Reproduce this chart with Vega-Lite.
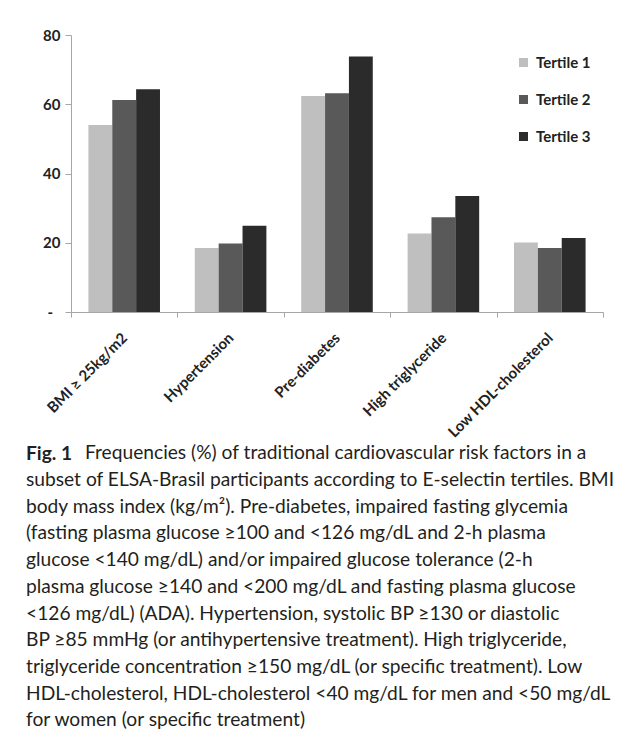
{
  "$schema": "https://vega.github.io/schema/vega-lite/v6.json",
  "width": 532,
  "height": 277,
  "autosize": {"type": "none"},
  "padding": {"left": 71, "top": 35, "right": 27, "bottom": 422},
  "background": "white",
  "data": {
    "values": [
      {"factor": "BMI ≥ 25kg/m2", "tertile": "Tertile 1", "pct": 54.0},
      {"factor": "BMI ≥ 25kg/m2", "tertile": "Tertile 2", "pct": 61.2},
      {"factor": "BMI ≥ 25kg/m2", "tertile": "Tertile 3", "pct": 64.3},
      {"factor": "Hypertension", "tertile": "Tertile 1", "pct": 18.5},
      {"factor": "Hypertension", "tertile": "Tertile 2", "pct": 19.8},
      {"factor": "Hypertension", "tertile": "Tertile 3", "pct": 24.9},
      {"factor": "Pre-diabetes", "tertile": "Tertile 1", "pct": 62.4},
      {"factor": "Pre-diabetes", "tertile": "Tertile 2", "pct": 63.2},
      {"factor": "Pre-diabetes", "tertile": "Tertile 3", "pct": 73.8},
      {"factor": "High triglyceride", "tertile": "Tertile 1", "pct": 22.7},
      {"factor": "High triglyceride", "tertile": "Tertile 2", "pct": 27.4},
      {"factor": "High triglyceride", "tertile": "Tertile 3", "pct": 33.5},
      {"factor": "Low HDL-cholesterol", "tertile": "Tertile 1", "pct": 20.1},
      {"factor": "Low HDL-cholesterol", "tertile": "Tertile 2", "pct": 18.5},
      {"factor": "Low HDL-cholesterol", "tertile": "Tertile 3", "pct": 21.4}
    ]
  },
  "title": {
    "text": "Fig. 1",
    "subtitle": [
      "\u200b\u00a0\u00a0\u00a0\u00a0\u00a0\u00a0\u00a0\u00a0\u00a0\u00a0\u00a0\u00a0Frequencies (%) of traditional cardiovascular risk factors in a",
      "subset of ELSA-Brasil participants according to E-selectin tertiles. BMI",
      "body mass index (kg/m²). Pre-diabetes, impaired fasting glycemia",
      "(fasting plasma glucose ≥100 and <126 mg/dL and 2-h plasma",
      "glucose <140 mg/dL) and/or impaired glucose tolerance (2-h",
      "plasma glucose ≥140 and <200 mg/dL and fasting plasma glucose",
      "<126 mg/dL) (ADA). Hypertension, systolic BP ≥130 or diastolic",
      "BP ≥85 mmHg (or antihypertensive treatment). High triglyceride,",
      "triglyceride concentration ≥150 mg/dL (or specific treatment). Low",
      "HDL-cholesterol, HDL-cholesterol <40 mg/dL for men and <50 mg/dL",
      "for women (or specific treatment)"
    ],
    "orient": "bottom",
    "anchor": "start",
    "frame": "group",
    "dx": -45,
    "offset": 5,
    "font": "Lato",
    "fontSize": 19.2,
    "fontWeight": "bold",
    "color": "#231f20",
    "lineHeight": 26.7,
    "subtitleFont": "Lato",
    "subtitleFontSize": 19.2,
    "subtitleFontWeight": "normal",
    "subtitleColor": "#231f20",
    "subtitleLineHeight": 26.7,
    "subtitlePadding": -20
  },
  "mark": {"type": "bar"},
  "encoding": {
    "x": {
      "field": "factor",
      "type": "nominal",
      "sort": null,
      "scale": {"paddingInner": 0, "paddingOuter": 0},
      "axis": {
        "title": null,
        "labelAngle": -45,
        "labelFont": "Lato",
        "labelFontSize": 15,
        "labelFontWeight": "bold",
        "labelColor": "#222222",
        "labelPadding": 13,
        "labelOffset": -5,
        "domainColor": "#a6a6a6",
        "tickColor": "#a6a6a6",
        "tickSize": 5,
        "tickBand": "extent"
      }
    },
    "xOffset": {
      "field": "tertile",
      "type": "nominal",
      "scale": {"paddingInner": 0, "paddingOuter": 0.73}
    },
    "y": {
      "field": "pct",
      "type": "quantitative",
      "scale": {"domain": [0, 80], "nice": false},
      "axis": {
        "title": null,
        "values": [0, 20, 40, 60, 80],
        "grid": false,
        "labelExpr": "datum.value === 0 ? '-\u00a0\u00a0\u200b' : datum.label",
        "labelFont": "Lato",
        "labelFontSize": 15,
        "labelFontWeight": "bold",
        "labelColor": "#222222",
        "labelPadding": 5,
        "tickSize": 6,
        "tickColor": "#a6a6a6",
        "domainColor": "#a6a6a6"
      }
    },
    "color": {
      "field": "tertile",
      "type": "nominal",
      "scale": {"domain": ["Tertile 1", "Tertile 2", "Tertile 3"], "range": ["#bfbfbf", "#595959", "#2b2b2b"]},
      "legend": {
        "title": null,
        "orient": "none",
        "legendX": 445,
        "legendY": 20,
        "padding": 0,
        "symbolType": "square",
        "symbolSize": 81,
        "symbolStrokeWidth": 0,
        "rowPadding": 21,
        "labelFont": "Lato",
        "labelFontSize": 15,
        "labelFontWeight": "bold",
        "labelColor": "#222222",
        "labelOffset": 5
      }
    }
  },
  "config": {
    "view": {"stroke": null}
  }
}
